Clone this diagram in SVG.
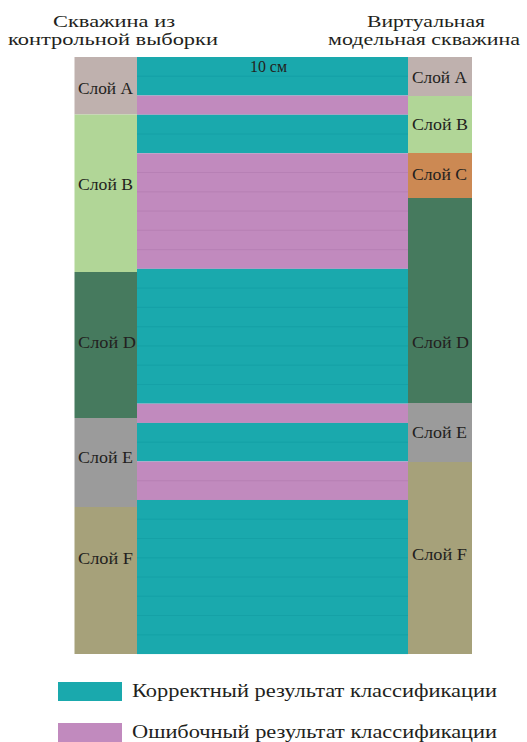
<svg xmlns="http://www.w3.org/2000/svg" width="527" height="742" viewBox="0 0 527 742">
<style>
.t{font-family:"Liberation Serif","Times New Roman","DejaVu Serif",serif;fill:#231f20}
.title{font-size:16px;text-anchor:middle}
.lab{font-size:16.5px;text-anchor:middle}
.leg{font-size:19px}
.cy{fill:#1aa9ad}
.mg{fill:#c18abe}
.ln{stroke:#129ca2;stroke-width:0.8;opacity:0.7}
.lm{stroke:#b07aae;stroke-width:0.8;opacity:0.7}
</style>
<rect width="527" height="742" fill="#ffffff"/>
<g id="titles">
<text class="t title" x="114" y="27" textLength="122" lengthAdjust="spacingAndGlyphs">Скважина из</text>
<text class="t title" x="113" y="45" textLength="210" lengthAdjust="spacingAndGlyphs">контрольной выборки</text>
<text class="t title" x="426" y="27" textLength="118" lengthAdjust="spacingAndGlyphs">Виртуальная</text>
<text class="t title" x="424" y="45" textLength="192" lengthAdjust="spacingAndGlyphs">модельная скважина</text>
</g>
<g id="core">
<rect class="cy" x="137" y="57" width="271" height="38.52"/>
<rect class="mg" x="137" y="95.52" width="271" height="19.26"/>
<rect class="cy" x="137" y="114.78" width="271" height="38.52"/>
<rect class="mg" x="137" y="153.3" width="271" height="115.56"/>
<rect class="cy" x="137" y="268.86" width="271" height="134.82"/>
<rect class="mg" x="137" y="403.68" width="271" height="19.26"/>
<rect class="cy" x="137" y="422.94" width="271" height="38.52"/>
<rect class="mg" x="137" y="461.46" width="271" height="38.52"/>
<rect class="cy" x="137" y="499.98" width="271" height="154.08"/>
<g id="stripe-lines">
<line class="ln" x1="137" x2="408" y1="76.26" y2="76.26"/>
<line class="ln" x1="137" x2="408" y1="134.04" y2="134.04"/>
<line class="lm" x1="137" x2="408" y1="172.56" y2="172.56"/>
<line class="lm" x1="137" x2="408" y1="191.82" y2="191.82"/>
<line class="lm" x1="137" x2="408" y1="211.08" y2="211.08"/>
<line class="lm" x1="137" x2="408" y1="230.34" y2="230.34"/>
<line class="lm" x1="137" x2="408" y1="249.6" y2="249.6"/>
<line class="ln" x1="137" x2="408" y1="288.12" y2="288.12"/>
<line class="ln" x1="137" x2="408" y1="307.38" y2="307.38"/>
<line class="ln" x1="137" x2="408" y1="326.64" y2="326.64"/>
<line class="ln" x1="137" x2="408" y1="345.9" y2="345.9"/>
<line class="ln" x1="137" x2="408" y1="365.16" y2="365.16"/>
<line class="ln" x1="137" x2="408" y1="384.42" y2="384.42"/>
<line class="ln" x1="137" x2="408" y1="442.2" y2="442.2"/>
<line class="lm" x1="137" x2="408" y1="480.72" y2="480.72"/>
<line class="ln" x1="137" x2="408" y1="519.24" y2="519.24"/>
<line class="ln" x1="137" x2="408" y1="538.5" y2="538.5"/>
<line class="ln" x1="137" x2="408" y1="557.76" y2="557.76"/>
<line class="ln" x1="137" x2="408" y1="577.02" y2="577.02"/>
<line class="ln" x1="137" x2="408" y1="596.28" y2="596.28"/>
<line class="ln" x1="137" x2="408" y1="615.54" y2="615.54"/>
<line class="ln" x1="137" x2="408" y1="634.8" y2="634.8"/>
</g>
<text class="t" x="268.5" y="72" font-size="16" text-anchor="middle" textLength="37" lengthAdjust="spacingAndGlyphs">10 см</text>
</g>
<g id="left-column">
<g id="left-A"><rect x="74.5" y="57" width="62.5" height="57.5" fill="#bfb1ae"/><text class="t lab" x="105.5" y="94" textLength="55" lengthAdjust="spacingAndGlyphs">Слой A</text></g>
<g id="left-B"><rect x="74.5" y="114.5" width="62.5" height="157.5" fill="#b1d697"/><text class="t lab" x="105.5" y="190" textLength="55" lengthAdjust="spacingAndGlyphs">Слой B</text></g>
<g id="left-D"><rect x="74.5" y="272" width="62.5" height="146" fill="#467a5e"/><text class="t lab" x="107" y="348" textLength="58" lengthAdjust="spacingAndGlyphs">Слой D</text></g>
<g id="left-E"><rect x="74.5" y="418" width="62.5" height="89" fill="#9b9b9b"/><text class="t lab" x="105.5" y="463" textLength="55" lengthAdjust="spacingAndGlyphs">Слой E</text></g>
<g id="left-F"><rect x="74.5" y="507" width="62.5" height="147" fill="#a6a17a"/><text class="t lab" x="105.5" y="564" textLength="55" lengthAdjust="spacingAndGlyphs">Слой F</text></g>
</g>
<g id="right-column">
<g id="right-A"><rect x="408" y="57" width="64" height="39" fill="#bfb1ae"/><text class="t lab" x="439.5" y="83" textLength="55" lengthAdjust="spacingAndGlyphs">Слой A</text></g>
<g id="right-B"><rect x="408" y="96" width="64" height="57" fill="#b1d697"/><text class="t lab" x="440" y="130" textLength="56" lengthAdjust="spacingAndGlyphs">Слой B</text></g>
<g id="right-C"><rect x="408" y="153" width="64" height="45" fill="#cc8953"/><text class="t lab" x="439.5" y="180" textLength="55" lengthAdjust="spacingAndGlyphs">Слой C</text></g>
<g id="right-D"><rect x="408" y="198" width="64" height="205" fill="#467a5e"/><text class="t lab" x="440.5" y="348" textLength="57" lengthAdjust="spacingAndGlyphs">Слой D</text></g>
<g id="right-E"><rect x="408" y="403" width="64" height="59" fill="#9b9b9b"/><text class="t lab" x="439.5" y="438" textLength="55" lengthAdjust="spacingAndGlyphs">Слой E</text></g>
<g id="right-F"><rect x="408" y="462" width="64" height="192" fill="#a6a17a"/><text class="t lab" x="439.5" y="560" textLength="55" lengthAdjust="spacingAndGlyphs">Слой F</text></g>
</g>
<g id="legend">
<g id="legend-correct"><rect class="cy" x="58" y="682" width="64" height="19"/><text class="t leg" x="132" y="697" textLength="365" lengthAdjust="spacingAndGlyphs">Корректный результат классификации</text></g>
<g id="legend-error"><rect class="mg" x="58" y="723" width="64" height="19"/><text class="t leg" x="132" y="738" textLength="365" lengthAdjust="spacingAndGlyphs">Ошибочный результат классификации</text></g>
</g>
</svg>
